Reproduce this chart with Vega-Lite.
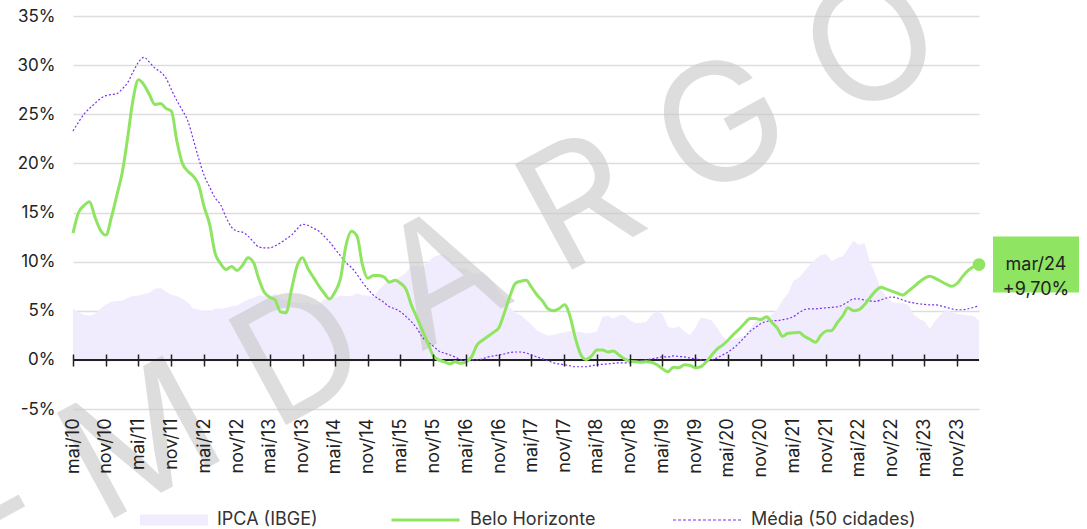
{
"$schema": "https://vega.github.io/schema/vega-lite/v6.json",
"width": 906, "height": 393,
"autosize": {"type": "none"},
"padding": {"left": 73, "top": 16, "right": 108, "bottom": 120},
"background": "white",
"config": {"font": "Inter", "view": {"stroke": null}},
"resolve": {"axis": {"x": "independent", "y": "independent"}},
"data": {"values": [
{"d":"2010-05","ipca":5.22,"bh":12.9,"media":23.3},
{"d":"2010-06","ipca":4.84,"bh":15.0,"media":24.2},
{"d":"2010-07","ipca":4.60,"bh":15.7,"media":25.0},
{"d":"2010-08","ipca":4.49,"bh":16.1,"media":25.6},
{"d":"2010-09","ipca":4.70,"bh":14.5,"media":26.1},
{"d":"2010-10","ipca":5.20,"bh":13.2,"media":26.6},
{"d":"2010-11","ipca":5.63,"bh":12.7,"media":26.9},
{"d":"2010-12","ipca":5.91,"bh":14.5,"media":27.0},
{"d":"2011-01","ipca":5.99,"bh":16.8,"media":27.1},
{"d":"2011-02","ipca":6.01,"bh":19.2,"media":27.6},
{"d":"2011-03","ipca":6.30,"bh":22.5,"media":28.2},
{"d":"2011-04","ipca":6.51,"bh":26.5,"media":29.3},
{"d":"2011-05","ipca":6.55,"bh":28.5,"media":30.3},
{"d":"2011-06","ipca":6.71,"bh":28.0,"media":30.8},
{"d":"2011-07","ipca":6.87,"bh":27.0,"media":30.3},
{"d":"2011-08","ipca":7.23,"bh":26.0,"media":29.7},
{"d":"2011-09","ipca":7.31,"bh":26.1,"media":29.3},
{"d":"2011-10","ipca":6.97,"bh":25.6,"media":28.7},
{"d":"2011-11","ipca":6.64,"bh":25.3,"media":27.5},
{"d":"2011-12","ipca":6.50,"bh":22.3,"media":26.4},
{"d":"2012-01","ipca":6.22,"bh":20.0,"media":25.4},
{"d":"2012-02","ipca":5.85,"bh":19.2,"media":24.3},
{"d":"2012-03","ipca":5.24,"bh":18.7,"media":22.5},
{"d":"2012-04","ipca":5.10,"bh":17.8,"media":20.5},
{"d":"2012-05","ipca":4.99,"bh":15.6,"media":18.8},
{"d":"2012-06","ipca":4.92,"bh":13.8,"media":17.6},
{"d":"2012-07","ipca":5.20,"bh":10.9,"media":16.5},
{"d":"2012-08","ipca":5.24,"bh":9.8,"media":15.8},
{"d":"2012-09","ipca":5.28,"bh":9.2,"media":14.5},
{"d":"2012-10","ipca":5.45,"bh":9.5,"media":13.5},
{"d":"2012-11","ipca":5.53,"bh":9.1,"media":13.1},
{"d":"2012-12","ipca":5.84,"bh":9.6,"media":13.0},
{"d":"2013-01","ipca":6.15,"bh":10.4,"media":12.6},
{"d":"2013-02","ipca":6.31,"bh":9.9,"media":12.0},
{"d":"2013-03","ipca":6.59,"bh":8.3,"media":11.5},
{"d":"2013-04","ipca":6.49,"bh":6.9,"media":11.4},
{"d":"2013-05","ipca":6.50,"bh":6.4,"media":11.4},
{"d":"2013-06","ipca":6.70,"bh":6.1,"media":11.6},
{"d":"2013-07","ipca":6.27,"bh":4.9,"media":11.9},
{"d":"2013-08","ipca":6.09,"bh":4.8,"media":12.3},
{"d":"2013-09","ipca":5.86,"bh":7.2,"media":12.7},
{"d":"2013-10","ipca":5.84,"bh":9.5,"media":13.3},
{"d":"2013-11","ipca":5.77,"bh":10.4,"media":13.8},
{"d":"2013-12","ipca":5.91,"bh":9.3,"media":13.7},
{"d":"2014-01","ipca":5.59,"bh":8.4,"media":13.4},
{"d":"2014-02","ipca":5.68,"bh":7.5,"media":13.1},
{"d":"2014-03","ipca":6.15,"bh":6.8,"media":12.6},
{"d":"2014-04","ipca":6.28,"bh":6.2,"media":12.0},
{"d":"2014-05","ipca":6.37,"bh":6.9,"media":11.3},
{"d":"2014-06","ipca":6.52,"bh":8.3,"media":10.6},
{"d":"2014-07","ipca":6.50,"bh":11.6,"media":9.9},
{"d":"2014-08","ipca":6.51,"bh":13.1,"media":9.4},
{"d":"2014-09","ipca":6.75,"bh":12.6,"media":8.7},
{"d":"2014-10","ipca":6.59,"bh":9.7,"media":7.9},
{"d":"2014-11","ipca":6.56,"bh":8.3,"media":7.2},
{"d":"2014-12","ipca":6.41,"bh":8.6,"media":6.6},
{"d":"2015-01","ipca":7.14,"bh":8.6,"media":6.2},
{"d":"2015-02","ipca":7.70,"bh":8.4,"media":5.8},
{"d":"2015-03","ipca":8.13,"bh":7.9,"media":5.4},
{"d":"2015-04","ipca":8.17,"bh":8.1,"media":5.2},
{"d":"2015-05","ipca":8.47,"bh":7.8,"media":4.9},
{"d":"2015-06","ipca":8.89,"bh":7.2,"media":4.4},
{"d":"2015-07","ipca":9.56,"bh":5.6,"media":3.9},
{"d":"2015-08","ipca":9.53,"bh":4.3,"media":3.2},
{"d":"2015-09","ipca":9.49,"bh":3.0,"media":2.3},
{"d":"2015-10","ipca":9.93,"bh":1.7,"media":1.8},
{"d":"2015-11","ipca":10.48,"bh":0.4,"media":1.4},
{"d":"2015-12","ipca":10.67,"bh":0.0,"media":0.9},
{"d":"2016-01","ipca":10.71,"bh":-0.2,"media":0.7},
{"d":"2016-02","ipca":10.36,"bh":-0.4,"media":0.5},
{"d":"2016-03","ipca":9.39,"bh":-0.2,"media":0.3},
{"d":"2016-04","ipca":9.28,"bh":-0.35,"media":0.0},
{"d":"2016-05","ipca":9.32,"bh":-0.2,"media":-0.1},
{"d":"2016-06","ipca":8.84,"bh":0.3,"media":0.0},
{"d":"2016-07","ipca":8.74,"bh":1.5,"media":0.0},
{"d":"2016-08","ipca":8.97,"bh":2.0,"media":0.1},
{"d":"2016-09","ipca":8.48,"bh":2.4,"media":0.3},
{"d":"2016-10","ipca":7.87,"bh":2.8,"media":0.4},
{"d":"2016-11","ipca":6.99,"bh":3.3,"media":0.5},
{"d":"2016-12","ipca":6.29,"bh":4.8,"media":0.6},
{"d":"2017-01","ipca":5.35,"bh":6.5,"media":0.75},
{"d":"2017-02","ipca":4.76,"bh":7.8,"media":0.8},
{"d":"2017-03","ipca":4.57,"bh":8.0,"media":0.8},
{"d":"2017-04","ipca":4.08,"bh":8.1,"media":0.7},
{"d":"2017-05","ipca":3.60,"bh":7.4,"media":0.5},
{"d":"2017-06","ipca":3.00,"bh":6.6,"media":0.3},
{"d":"2017-07","ipca":2.71,"bh":6.0,"media":0.1},
{"d":"2017-08","ipca":2.46,"bh":5.2,"media":-0.1},
{"d":"2017-09","ipca":2.54,"bh":5.0,"media":-0.3},
{"d":"2017-10","ipca":2.70,"bh":5.2,"media":-0.4},
{"d":"2017-11","ipca":2.80,"bh":5.6,"media":-0.5},
{"d":"2017-12","ipca":2.95,"bh":4.5,"media":-0.6},
{"d":"2018-01","ipca":2.86,"bh":2.2,"media":-0.7},
{"d":"2018-02","ipca":2.84,"bh":0.5,"media":-0.7},
{"d":"2018-03","ipca":2.68,"bh":0.05,"media":-0.7},
{"d":"2018-04","ipca":2.76,"bh":0.4,"media":-0.6},
{"d":"2018-05","ipca":2.86,"bh":1.0,"media":-0.5},
{"d":"2018-06","ipca":4.39,"bh":1.0,"media":-0.45},
{"d":"2018-07","ipca":4.48,"bh":0.8,"media":-0.4},
{"d":"2018-08","ipca":4.19,"bh":0.9,"media":-0.35},
{"d":"2018-09","ipca":4.53,"bh":0.5,"media":-0.3},
{"d":"2018-10","ipca":4.56,"bh":0.1,"media":-0.3},
{"d":"2018-11","ipca":4.05,"bh":-0.15,"media":-0.3},
{"d":"2018-12","ipca":3.75,"bh":-0.2,"media":-0.2},
{"d":"2019-01","ipca":3.78,"bh":-0.25,"media":-0.1},
{"d":"2019-02","ipca":3.89,"bh":-0.2,"media":0.0},
{"d":"2019-03","ipca":4.58,"bh":-0.25,"media":0.1},
{"d":"2019-04","ipca":4.94,"bh":-0.5,"media":0.2},
{"d":"2019-05","ipca":4.66,"bh":-0.9,"media":0.3},
{"d":"2019-06","ipca":3.37,"bh":-1.2,"media":0.3},
{"d":"2019-07","ipca":3.22,"bh":-0.75,"media":0.4},
{"d":"2019-08","ipca":3.43,"bh":-0.8,"media":0.35},
{"d":"2019-09","ipca":2.89,"bh":-0.5,"media":0.3},
{"d":"2019-10","ipca":2.54,"bh":-0.55,"media":0.2},
{"d":"2019-11","ipca":3.27,"bh":-0.8,"media":0.1},
{"d":"2019-12","ipca":4.31,"bh":-0.7,"media":0.0},
{"d":"2020-01","ipca":4.19,"bh":-0.2,"media":-0.1},
{"d":"2020-02","ipca":4.01,"bh":0.5,"media":0.0},
{"d":"2020-03","ipca":3.30,"bh":1.1,"media":0.2},
{"d":"2020-04","ipca":2.40,"bh":1.5,"media":0.5},
{"d":"2020-05","ipca":1.88,"bh":2.0,"media":0.8},
{"d":"2020-06","ipca":2.13,"bh":2.6,"media":1.2},
{"d":"2020-07","ipca":2.31,"bh":3.1,"media":1.7},
{"d":"2020-08","ipca":2.44,"bh":3.7,"media":2.3},
{"d":"2020-09","ipca":3.14,"bh":4.2,"media":2.9},
{"d":"2020-10","ipca":3.92,"bh":4.2,"media":3.3},
{"d":"2020-11","ipca":4.31,"bh":4.1,"media":3.7},
{"d":"2020-12","ipca":4.52,"bh":4.4,"media":3.9},
{"d":"2021-01","ipca":4.56,"bh":3.8,"media":4.0},
{"d":"2021-02","ipca":5.20,"bh":3.2,"media":4.0},
{"d":"2021-03","ipca":6.10,"bh":2.4,"media":4.1},
{"d":"2021-04","ipca":6.76,"bh":2.7,"media":4.2},
{"d":"2021-05","ipca":8.06,"bh":2.75,"media":4.4},
{"d":"2021-06","ipca":8.35,"bh":2.8,"media":4.8},
{"d":"2021-07","ipca":8.99,"bh":2.4,"media":5.1},
{"d":"2021-08","ipca":9.68,"bh":2.1,"media":5.2},
{"d":"2021-09","ipca":10.25,"bh":1.8,"media":5.2},
{"d":"2021-10","ipca":10.67,"bh":2.5,"media":5.25},
{"d":"2021-11","ipca":10.74,"bh":2.95,"media":5.3},
{"d":"2021-12","ipca":10.06,"bh":3.0,"media":5.35},
{"d":"2022-01","ipca":10.38,"bh":3.8,"media":5.4},
{"d":"2022-02","ipca":10.54,"bh":4.5,"media":5.6},
{"d":"2022-03","ipca":11.30,"bh":5.3,"media":5.9},
{"d":"2022-04","ipca":12.13,"bh":5.0,"media":6.2},
{"d":"2022-05","ipca":11.73,"bh":5.1,"media":6.2},
{"d":"2022-06","ipca":11.89,"bh":5.6,"media":6.1},
{"d":"2022-07","ipca":10.07,"bh":6.3,"media":6.0},
{"d":"2022-08","ipca":8.73,"bh":7.0,"media":5.95},
{"d":"2022-09","ipca":7.17,"bh":7.4,"media":6.1},
{"d":"2022-10","ipca":6.47,"bh":7.2,"media":6.3},
{"d":"2022-11","ipca":5.90,"bh":7.0,"media":6.4},
{"d":"2022-12","ipca":5.79,"bh":6.8,"media":6.3},
{"d":"2023-01","ipca":5.77,"bh":6.6,"media":6.1},
{"d":"2023-02","ipca":5.60,"bh":7.0,"media":5.9},
{"d":"2023-03","ipca":4.65,"bh":7.4,"media":5.8},
{"d":"2023-04","ipca":4.18,"bh":7.9,"media":5.7},
{"d":"2023-05","ipca":3.94,"bh":8.3,"media":5.65},
{"d":"2023-06","ipca":3.16,"bh":8.5,"media":5.6},
{"d":"2023-07","ipca":3.99,"bh":8.3,"media":5.6},
{"d":"2023-08","ipca":4.61,"bh":8.0,"media":5.5},
{"d":"2023-09","ipca":5.19,"bh":7.7,"media":5.35},
{"d":"2023-10","ipca":4.82,"bh":7.5,"media":5.2},
{"d":"2023-11","ipca":4.68,"bh":7.8,"media":5.1},
{"d":"2023-12","ipca":4.62,"bh":8.5,"media":5.1},
{"d":"2024-01","ipca":4.51,"bh":9.1,"media":5.2},
{"d":"2024-02","ipca":4.50,"bh":9.5,"media":5.35},
{"d":"2024-03","ipca":3.93,"bh":9.7,"media":5.5}
]},
"layer": [
{
"mark": {"type": "area", "opacity": 1, "interpolate": "linear"},
"encoding": {
"x": {"field": "d", "type": "temporal", "title": null,
 "scale": {"type": "utc", "nice": false, "domain": [1272672000000, 1709251200000]},
 "axis": {"title": null, "grid": false, "domain": false, "zindex": 1,
  "values": [1272672000000,1288569600000,1304208000000,1320105600000,1335830400000,1351728000000,1367366400000,1383264000000,1398902400000,1414800000000,1430438400000,1446336000000,1462060800000,1477958400000,1493596800000,1509494400000,1525132800000,1541030400000,1556668800000,1572566400000,1588291200000,1604188800000,1619827200000,1635724800000,1651363200000,1667260800000,1682899200000,1698796800000],
  "labelExpr": "['jan','fev','mar','abr','mai','jun','jul','ago','set','out','nov','dez'][utcmonth(datum.value)] + '/' + utcFormat(datum.value, '%y')",
  "labelAngle": -90, "labelFontSize": 18, "labelColor": "#222", "labelPadding": 52, "labelOverlap": false, "labelFlush": false, "labelBound": false,
  "offset": -55, "ticks": true, "tickSize": 12, "tickColor": "#222", "tickWidth": 1.5, "tickOpacity": 1}},
"y": {"field": "ipca", "type": "quantitative", "title": null,
 "scale": {"domain": [-5, 35], "nice": false, "zero": false},
 "axis": {"title": null, "values": [-5,0,5,10,15,20,25,30,35], "labelExpr": "datum.value + '%'", "labelFontSize": 17, "labelColor": "#222", "labelPadding": 18, "ticks": false, "tickSize": 0, "domain": false, "grid": true, "gridColor": "#dddddd", "gridWidth": 1.5}},
"fill": {"datum": "IPCA (IBGE)",
 "scale": {"domain": ["IPCA (IBGE)"], "range": ["#f1ecfd"]},
 "legend": {"title": null, "orient": "none", "legendX": 67, "legendY": 493, "direction": "horizontal",
  "symbolType": "M-1,-0.16H1V0.16H-1Z", "symbolSize": 4624, "clipHeight": 22, "symbolStrokeWidth": 0, "symbolFillColor": "#f1ecfd", "symbolOpacity": 1,
  "labelFontSize": 18, "labelColor": "#333", "labelOffset": 9, "labelLimit": 300, "padding": 0}}
}
},
{
"data": {"values": [{}]},
"mark": {"type": "text", "text": "-  M  D  A  R  G  O", "font": "Inter", "fontSize": 165, "angle": 331.5, "align": "center", "baseline": "middle", "color": "#c8c8c8", "opacity": 0.6},
"encoding": {
 "x": {"datum": 1454284800000, "type": "temporal", "axis": null},
 "y": {"datum": 8.2, "type": "quantitative", "axis": null}}
},
{
"mark": {"type": "rule", "color": "#222", "strokeWidth": 1.5},
"encoding": {"y": {"datum": 0, "type": "quantitative", "axis": null}}
},
{
"mark": {"type": "line", "strokeWidth": 1.2, "strokeDash": [2, 2], "interpolate": "monotone"},
"encoding": {
 "x": {"field": "d", "type": "temporal", "axis": null},
 "y": {"field": "media", "type": "quantitative", "axis": null},
 "color": {"datum": "Média (50 cidades)",
  "scale": {"domain": ["Média (50 cidades)"], "range": ["#7b2ff0"]},
  "legend": {"title": null, "orient": "none", "legendX": 599, "legendY": 493, "direction": "horizontal",
   "symbolType": "M-1,0H1", "symbolSize": 4624, "clipHeight": 22, "symbolStrokeWidth": 1.2, "symbolDash": [3, 2], "symbolStrokeColor": "#7b2ff0", "symbolOpacity": 1,
   "labelFontSize": 18, "labelColor": "#333", "labelOffset": 9, "labelLimit": 300, "padding": 0}}}
},
{
"mark": {"type": "line", "strokeWidth": 3, "interpolate": "monotone"},
"encoding": {
 "x": {"field": "d", "type": "temporal", "axis": null},
 "y": {"field": "bh", "type": "quantitative", "axis": null},
 "stroke": {"datum": "Belo Horizonte",
  "scale": {"domain": ["Belo Horizonte"], "range": ["#8fe562"]},
  "legend": {"title": null, "orient": "none", "legendX": 317, "legendY": 493, "direction": "horizontal",
   "symbolType": "M-1,0H1", "symbolSize": 4624, "clipHeight": 22, "symbolStrokeWidth": 3, "symbolStrokeColor": "#8fe562", "symbolOpacity": 1,
   "labelFontSize": 18, "labelColor": "#333", "labelOffset": 9, "labelLimit": 300, "padding": 0}}}
},
{
"transform": [{"filter": "utcyear(datum.d) == 2024 && utcmonth(datum.d) == 2"}],
"layer": [
 {"mark": {"type": "point", "filled": true, "size": 160, "color": "#8fe562", "opacity": 1}},
 {"mark": {"type": "point", "filled": true, "shape": "M-1,-0.65H1V0.65H-1Z", "size": 7396, "color": "#8fe562", "opacity": 1, "xOffset": 57}},
 {"mark": {"type": "text", "text": ["mar/24", "+9,70%"], "fontSize": 18, "lineHeight": 25, "align": "center", "baseline": "middle", "dx": 57, "color": "#222"}}
],
"encoding": {
 "x": {"field": "d", "type": "temporal", "axis": null},
 "y": {"field": "bh", "type": "quantitative", "axis": null}}
}
]
}
